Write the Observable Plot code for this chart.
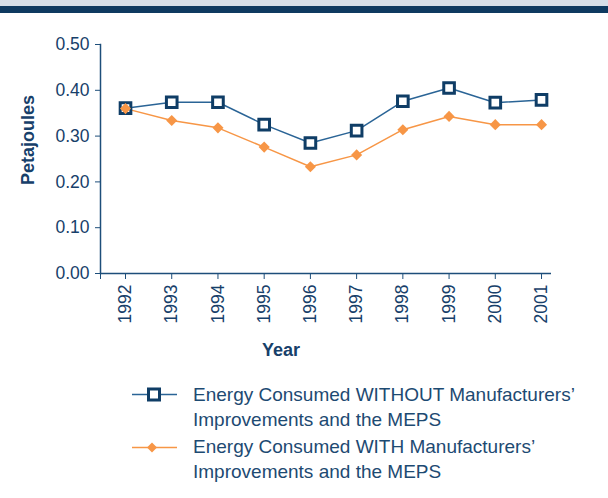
<!DOCTYPE html>
<html>
<head>
<meta charset="utf-8">
<script src="https://cdn.jsdelivr.net/npm/d3@7"></script>
<script src="https://cdn.jsdelivr.net/npm/@observablehq/plot@0.6"></script>
<style>
  body { margin: 0; background: #fff; font-family: "Liberation Sans", Arial, sans-serif; }
  #wrap { position: relative; width: 608px; height: 498px; overflow: hidden; }
  .band1 { position: absolute; left: 0; top: 0; width: 608px; height: 6px; background: #d6dfe8; }
  .band2 { position: absolute; left: 0; top: 6px; width: 608px; height: 7px; background: #0e3a60; }
  #chart { position: absolute; left: 0; top: 0; }
  .lbl { position: absolute; color: #17406a; font-weight: bold; font-size: 18px; line-height: 22px; white-space: nowrap; }
  .leg { position: absolute; left: 132px; color: #1d4a72; font-size: 19px; line-height: 25px; }
  .leg svg { position: absolute; left: 0; }
</style>
</head>
<body>
<div id="wrap">
  <div class="band1"></div>
  <div class="band2"></div>
  <div id="chart"></div>
  <div class="lbl" style="left:28px; top:140px; transform: translate(-50%,-50%) rotate(-90deg);">Petajoules</div>
  <div class="lbl" style="left:281px; top:339px; transform: translateX(-50%);">Year</div>
  <div class="leg" style="top:382px;">
    <svg width="50" height="26" style="top:0"><line x1="0" y1="12.5" x2="45" y2="12.5" stroke="#2a6496" stroke-width="1.5"/><rect x="16.5" y="6" width="11" height="11" fill="#fff" stroke="#0f3d66" stroke-width="3" transform="translate(0,1)"/></svg>
    <div style="margin-left:61px;">Energy Consumed WITHOUT Manufacturers’<br>Improvements and the MEPS</div>
  </div>
  <div class="leg" style="top:434px;">
    <svg width="50" height="26" style="top:0"><line x1="0" y1="13.5" x2="45" y2="13.5" stroke="#f79646" stroke-width="1.5"/><path d="M20 8.5 L25 13.5 L20 18.5 L15 13.5 Z" fill="#f79646"/></svg>
    <div style="margin-left:61px;">Energy Consumed WITH Manufacturers’<br>Improvements and the MEPS</div>
  </div>
</div>
<script>
const years = [1992, 1993, 1994, 1995, 1996, 1997, 1998, 1999, 2000, 2001];
const without = [0.361, 0.374, 0.374, 0.325, 0.285, 0.312, 0.376, 0.405, 0.373, 0.379];
const withMeps = [0.360, 0.334, 0.318, 0.276, 0.233, 0.259, 0.314, 0.343, 0.325, 0.325];
const yTicks = [0, 0.1, 0.2, 0.3, 0.4, 0.5];

const dWithout = years.map((y, i) => ({year: y, v: without[i]}));
const dWith = years.map((y, i) => ({year: y, v: withMeps[i]}));

const navy = "#17406a";
const axisCol = "#1d4e7a";
const xDomain = [1991.459, 2001.216];

const chart = Plot.plot({
  width: 608,
  height: 370,
  marginLeft: 100,
  marginRight: 57,
  marginTop: 44,
  marginBottom: 97,
  style: {fontFamily: "'Liberation Sans', Arial, sans-serif", fontSize: "18px", color: navy, background: "transparent"},
  x: {domain: xDomain},
  y: {domain: [0, 0.5]},
  marks: [
    Plot.axisY({ticks: yTicks, tickFormat: d3.format(".2f"), tickSize: 5, tickPadding: 6, fontSize: 17.5, label: null, stroke: axisCol}),
    Plot.axisX({ticks: years, tickFormat: d => String(d), tickRotate: -90, tickSize: 6, tickPadding: 5, fontSize: 17.5, label: null, stroke: axisCol}),
    Plot.axisX({ticks: [xDomain[0]], tickFormat: () => "", tickSize: 6, label: null, stroke: axisCol}),
    Plot.frame({anchor: "left", stroke: axisCol, strokeWidth: 1.5}),
    Plot.ruleY([0], {stroke: axisCol, strokeWidth: 1.5}),
    Plot.line(dWith, {x: "year", y: "v", stroke: "#f79646", strokeWidth: 1.5}),
    Plot.line(dWithout, {x: "year", y: "v", stroke: "#2a6496", strokeWidth: 1.5}),
    Plot.dot(dWithout, {x: "year", y: "v", symbol: "square", r: 6, fill: "#fff", stroke: "#0f3d66", strokeWidth: 3}),
    Plot.dot(dWith, {x: "year", y: "v", symbol: "diamond2", r: 5, fill: "#f79646", stroke: "none"})
  ]
});
document.getElementById("chart").appendChild(chart);
</script>
</body>
</html>
